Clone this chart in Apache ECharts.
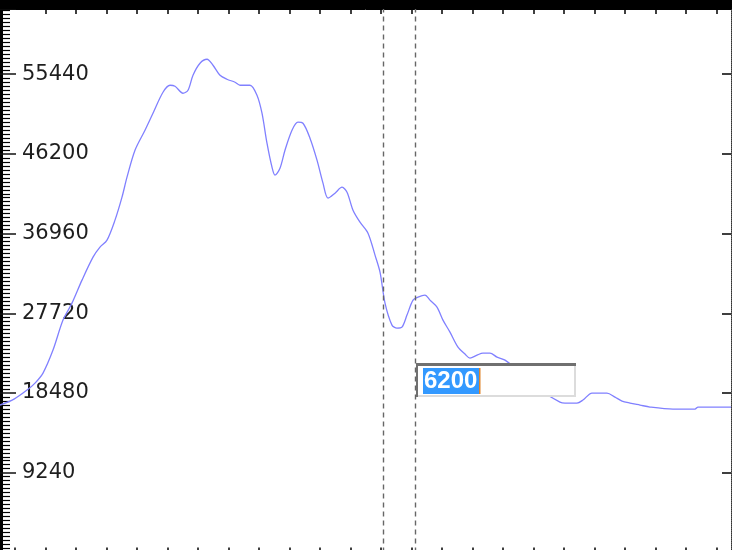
<!DOCTYPE html>
<html>
<head>
<meta charset="utf-8">
<script src="https://cdn.jsdelivr.net/npm/echarts@6/dist/echarts.min.js"></script>
<style>
  html, body { margin: 0; padding: 0; background: #fff; }
  #chart { width: 732px; height: 550px; }
</style>
</head>
<body>
<div id="chart"></div>
<script>
// trace readings, x in sample units, y in counts
const xVals = [-246, -16, 197, 328, 459, 623, 787, 934, 1098, 1279, 1393, 1508, 1639, 1754, 1836, 1967,
  2131, 2262, 2426, 2541, 2623, 2754, 2836, 2918, 3033, 3148, 3246, 3361, 3475, 3607, 3689, 3852,
  3967, 4049, 4131, 4213, 4262, 4344, 4426, 4541, 4639, 4721, 4836, 4951, 5049, 5131, 5246, 5361,
  5443, 5541, 5656, 5787, 5902, 5984, 6066, 6180, 6262, 6344, 6426, 6525, 6607, 6721, 6803, 6918,
  7016, 7131, 7262, 7377, 7459, 7574, 7672, 7787, 7902, 8033, 8279, 8607, 8934, 9016, 9213, 9311,
  9459, 9705, 9836, 9951, 10082, 10246, 10410, 10787, 11148, 11197, 11738]
const yVals = [17081, 17776, 18819, 19630, 20789, 23454, 26931, 28900, 31566, 34231, 35390, 36201, 38519, 41184, 43501, 46630,
  48948, 50918, 53351, 54162, 54046, 53235, 53583, 55321, 56712, 57175, 56480, 55321, 54858, 54510, 54162, 54162,
  53004, 50918, 47441, 44660, 43733, 44544, 46630, 48948, 49875, 49759, 48021, 45471, 42806, 41068, 41647, 42343,
  41763, 39677, 38287, 37012, 34463, 32493, 28900, 26351, 26003, 26119, 27510, 29248, 29596, 29828, 29248, 28437,
  26931, 25540, 23802, 22991, 22527, 22875, 23107, 23107, 22643, 22295, 20905, 18819, 17428, 17312, 17312, 17660,
  18471, 18471, 18008, 17544, 17312, 17081, 16849, 16617, 16617, 16849, 16849]

const yTickStep = 9240
const yMax = 63000
const xMin = -246
const xMax = 11738
const xTicksBottom = [0, 500, 1000, 1500, 2000, 2500, 3000, 3500, 4000, 4500, 5000, 5500,
  6000, 6500, 7000, 7500, 8000, 8500, 9000, 9500, 10000, 10500, 11000, 11500]
const xTicksTop = xTicksBottom.slice(1)
const cursorA = 6033
const cursorB = 6557
const editText = '6200'

const points = xVals.map((x, i) => [x, yVals[i]])

let chart = echarts.init(document.getElementById('chart'), null, {renderer: 'canvas'})

const boxX = 416, boxY = 363, boxW = 160, boxH = 34

chart.setOption({
  animation: false,
  backgroundColor: '#fff',
  grid: {left: 0, top: 9, width: 731, height: 543.4, containLabel: false, outerBoundsMode: 'none'},
  xAxis: [
    {
      type: 'value', position: 'bottom', min: xMin, max: xMax,
      axisLine: {show: false, onZero: false},
      axisTick: {show: true, inside: true, length: 5, customValues: xTicksBottom,
        lineStyle: {color: '#000', width: 1.5}},
      axisLabel: {show: false},
      splitLine: {show: false}
    },
    {
      type: 'value', position: 'top', min: xMin, max: xMax,
      axisLine: {show: true, onZero: false, lineStyle: {color: '#000', width: 1}},
      axisTick: {show: true, inside: true, length: 5, customValues: xTicksTop,
        lineStyle: {color: '#000', width: 1.5}},
      axisLabel: {show: false},
      splitLine: {show: false}
    }
  ],
  yAxis: [
    {
      type: 'value', position: 'left', min: 0, max: yMax, interval: yTickStep,
      axisLine: {show: true, onZero: false, lineStyle: {color: '#000', width: 6}},
      axisTick: {show: true, inside: true, length: 16, lineStyle: {color: '#111', width: 1.5}},
      minorTick: {show: true, splitNumber: 20, length: 10, lineStyle: {color: '#000', width: 1.2}},
      axisLabel: {
        show: true, inside: true, margin: 22, showMinLabel: false, showMaxLabel: false,
        color: '#1e1e1e', fontFamily: 'DejaVu Sans', fontSize: 21,
        formatter: (v) => String(v)
      },
      splitLine: {show: false}
    },
    {
      type: 'value', position: 'right', min: 0, max: yMax, interval: yTickStep,
      axisLine: {show: true, onZero: false, lineStyle: {color: '#333', width: 1, type: [1, 1]}},
      axisTick: {show: true, inside: true, length: 9, lineStyle: {color: '#000', width: 1.5}},
      axisLabel: {show: false},
      splitLine: {show: false}
    }
  ],
  series: [
    {
      type: 'line',
      data: points,
      showSymbol: false,
      smooth: 0.3,
      lineStyle: {color: '#8080ff', width: 1.3},
      markLine: {
        silent: true,
        symbol: ['none', 'none'],
        label: {show: false},
        lineStyle: {color: '#666', width: 1.4, type: [5, 4]},
        data: [{xAxis: cursorA}, {xAxis: cursorB}]
      }
    }
  ],
  graphic: [
    {type: 'rect', left: 0, top: 0, z: 100, shape: {width: 732, height: 9}, style: {fill: '#000'}},
    {type: 'rect', x: boxX, y: boxY, z: 100, shape: {width: boxW, height: boxH},
      style: {fill: '#fff'}},
    {type: 'rect', x: boxX, y: boxY, z: 101, shape: {width: boxW, height: 3}, style: {fill: '#707070'}},
    {type: 'rect', x: boxX, y: boxY, z: 101, shape: {width: 2, height: boxH}, style: {fill: '#707070'}},
    {type: 'rect', x: boxX + boxW - 2, y: boxY + 3, z: 101, shape: {width: 2, height: boxH - 3}, style: {fill: '#dcdcdc'}},
    {type: 'rect', x: boxX + 2, y: boxY + boxH - 2, z: 101, shape: {width: boxW - 2, height: 2}, style: {fill: '#dcdcdc'}},
    {type: 'rect', x: 423, y: 368, z: 102, shape: {width: 56, height: 26}, style: {fill: '#3399ff'}},
    {type: 'rect', x: 479, y: 368, z: 102, shape: {width: 1.5, height: 26}, style: {fill: '#e0842a'}},
    {type: 'text', x: 424, y: 381, z: 103,
      style: {text: editText, fill: '#fff', font: 'bold 24px "Liberation Sans"', textVerticalAlign: 'middle'}}
  ]
})
</script>
</body>
</html>
